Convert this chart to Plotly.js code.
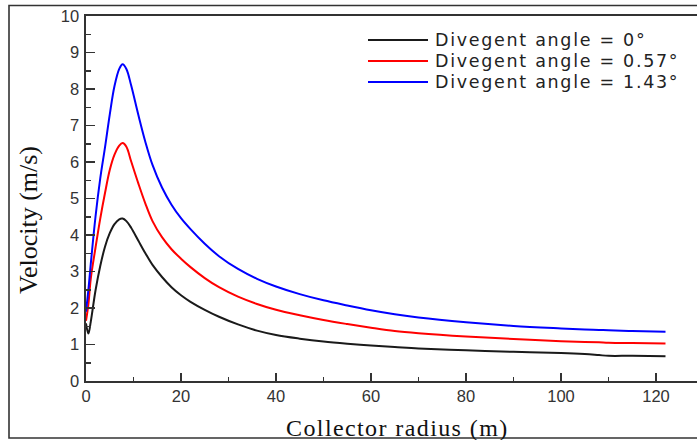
<!DOCTYPE html>
<html>
<head>
<meta charset="utf-8">
<script src="https://cdn.plot.ly/plotly-3.0.1.min.js"></script>
<style>
  html, body { margin: 0; padding: 0; background: #ffffff; }
  #chart { width: 697px; height: 440px; }
</style>
</head>
<body>
<div id="chart"></div>
<script>
// Collector radius (m) sample positions shared by all three series
const radius = [0, 0.5, 1, 2, 3, 4, 5, 6, 7, 7.7, 8.5, 9.5, 11, 12.5, 14, 16, 18, 20, 22, 25,
                28, 32, 36, 40, 45, 50, 55, 60, 65, 70, 80, 90, 100, 105, 108, 110, 115, 122];

// Velocity (m/s) for each divergent angle
const velAngle0 = [1.58, 1.30, 1.62, 2.48, 3.15, 3.68, 4.05, 4.30, 4.43, 4.45, 4.38, 4.20, 3.85, 3.50,
                   3.18, 2.85, 2.57, 2.35, 2.17, 1.95, 1.76, 1.55, 1.38, 1.26, 1.16, 1.08, 1.02, 0.97,
                   0.93, 0.89, 0.84, 0.80, 0.77, 0.74, 0.71, 0.69, 0.69, 0.68];
const velAngle057 = [1.65, 2.10, 2.80, 3.65, 4.45, 5.15, 5.78, 6.20, 6.45, 6.52, 6.42, 6.02, 5.42, 4.86,
                     4.38, 3.94, 3.61, 3.35, 3.12, 2.82, 2.57, 2.31, 2.11, 1.95, 1.80, 1.67, 1.56, 1.46,
                     1.37, 1.31, 1.22, 1.15, 1.09, 1.07, 1.06, 1.05, 1.04, 1.03];
const velAngle143 = [1.90, 2.50, 3.20, 4.50, 5.55, 6.40, 7.30, 8.08, 8.55, 8.68, 8.55, 8.10, 7.30, 6.55,
                     5.92, 5.30, 4.83, 4.46, 4.16, 3.76, 3.42, 3.07, 2.80, 2.59, 2.38, 2.21, 2.07, 1.94,
                     1.83, 1.74, 1.61, 1.51, 1.44, 1.41, 1.40, 1.39, 1.37, 1.35];

const seriesNames = ['Divegent angle = 0°', 'Divegent angle = 0.57°', 'Divegent angle = 1.43°'];
const seriesValues = [velAngle0, velAngle057, velAngle143];
const seriesColors = ['#1a1a1a', '#ff0000', '#0000ff'];

const xTicks = [0, 20, 40, 60, 80, 100, 120];
const yTicks = [0, 1, 2, 3, 4, 5, 6, 7, 8, 9, 10];

// Figure geometry (pixels) and helpers to place decorations in paper space
const W = 697, H = 440;
const M = { l: 86, r: 0, t: 16, b: 59 };
const plotW = W - M.l - M.r, plotH = H - M.t - M.b;
const px = x => (x - M.l) / plotW;
const py = y => (H - M.b - y) / plotH;

const traces = seriesValues.map((vals, i) => ({
  type: 'scatter',
  mode: 'lines',
  x: radius,
  y: vals,
  name: seriesNames[i],
  line: { color: seriesColors[i], width: 2, shape: 'spline', smoothing: 1 },
  showlegend: false,
  hoverinfo: 'x+y'
}));

// Hand-laid legend: long sample lines with labels to their right
const legendRows = [40, 61, 82];
const shapes = [];
const annotations = [];
seriesNames.forEach((name, i) => {
  shapes.push({
    type: 'line', xref: 'paper', yref: 'paper',
    x0: px(368), x1: px(428), y0: py(legendRows[i]), y1: py(legendRows[i]),
    line: { color: seriesColors[i], width: 2 }
  });
  annotations.push({
    xref: 'paper', yref: 'paper', x: px(434), y: py(legendRows[i]),
    xanchor: 'left', yanchor: 'middle', showarrow: false, borderpad: 0,
    text: '<span style="letter-spacing:1.7px">' + name + '</span>',
    font: { family: 'DejaVu Sans, Verdana, sans-serif', size: 17.5, color: '#222222' }
  });
});

// Frame around the whole figure
shapes.push({
  type: 'rect', xref: 'paper', yref: 'paper',
  x0: px(9), x1: px(760), y0: py(438), y1: py(5.5),
  line: { color: '#333333', width: 1.6 }, fillcolor: 'rgba(0,0,0,0)', layer: 'above'
});

// Axis titles
annotations.push({
  xref: 'paper', yref: 'paper', x: px(397), y: py(428),
  xanchor: 'center', yanchor: 'middle', showarrow: false,
  text: '<span style="letter-spacing:1.4px">Collector radius (m)</span>',
  font: { family: 'Liberation Serif, Times New Roman, serif', size: 24, color: '#111111' }
});
annotations.push({
  xref: 'paper', yref: 'paper', x: px(29), y: py(220),
  xanchor: 'center', yanchor: 'middle', showarrow: false, textangle: -90,
  text: 'Velocity (m/s)',
  font: { family: 'Liberation Serif, Times New Roman, serif', size: 26, color: '#111111' }
});

const axisFont = { family: 'Liberation Sans, Arial, sans-serif', size: 16.5, color: '#333333' };

const layout = {
  width: W, height: H,
  margin: M,
  paper_bgcolor: '#ffffff', plot_bgcolor: '#ffffff',
  showlegend: false,
  xaxis: {
    range: [0, plotW / 4.75],
    tickvals: xTicks, ticktext: xTicks.map(String),
    ticks: 'inside', ticklen: 8, tickwidth: 1.5, tickcolor: '#333333',
    minor: { dtick: 10, tick0: 0, ticks: 'inside', ticklen: 4, tickwidth: 1.5, tickcolor: '#333333', showgrid: false },
    showline: true, linecolor: '#333333', linewidth: 1.6, mirror: true,
    showgrid: false, zeroline: false,
    tickfont: axisFont
  },
  yaxis: {
    range: [0, 10],
    tickvals: yTicks, ticktext: yTicks.map(String),
    ticks: 'inside', ticklen: 9, tickwidth: 1.5, tickcolor: '#333333',
    minor: { dtick: 0.5, tick0: 0, ticks: 'inside', ticklen: 4.5, tickwidth: 1.5, tickcolor: '#333333', showgrid: false },
    showline: true, linecolor: '#333333', linewidth: 1.6, mirror: false,
    showgrid: false, zeroline: false,
    ticklabelstandoff: 2,
    tickfont: axisFont
  },
  shapes: shapes,
  annotations: annotations
};

Plotly.newPlot('chart', traces, layout, { displayModeBar: false, staticPlot: true });
</script>
</body>
</html>
